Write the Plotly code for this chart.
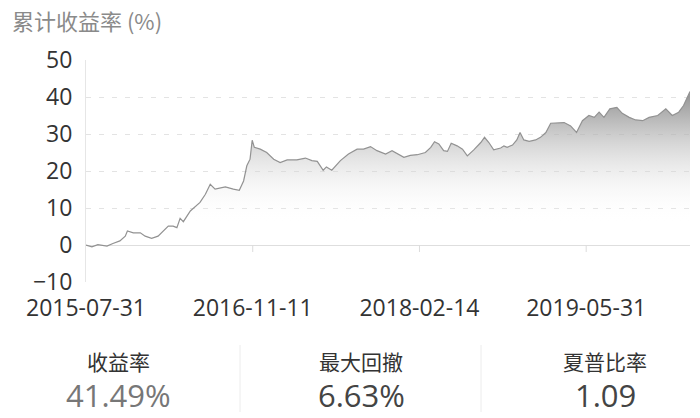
import plotly.graph_objects as go

# trading-day index (since 2015-07-31) and cumulative return (%)
days = [0, 11, 22, 39, 50, 63, 73, 77, 88, 101, 110, 122, 134, 153, 162, 169, 175, 181,
        194, 203, 212, 222, 231, 240, 259, 274, 285, 293, 299, 305, 309, 313, 324, 336,
        349, 361, 374, 392, 408, 420, 430, 441, 447, 457, 473, 488, 504, 516, 529, 541,
        557, 569, 579, 591, 603, 616, 631, 641, 648, 656, 665, 672, 679, 690, 700, 709,
        721, 734, 741, 749, 758, 771, 777, 783, 793, 801, 807, 814, 824, 836, 845, 855,
        864, 873, 889, 901, 912, 923, 935, 945, 954, 963, 974, 987, 997, 1010, 1022,
        1035, 1047, 1063, 1078, 1090, 1102, 1111, 1123]
returns = [0.0, -0.5, 0.1, -0.3, 0.4, 1.1, 2.4, 3.8, 3.3, 3.3, 2.4, 1.8, 2.4, 5.1, 5.1, 4.7,
           7.2, 6.3, 9.2, 10.3, 11.5, 13.7, 16.4, 15.1, 15.7, 15.1, 14.8, 17.3, 21.4, 23.2,
           28.3, 26.4, 25.9, 25.0, 23.2, 22.3, 23.0, 23.0, 23.5, 22.8, 22.6, 20.2, 21.1,
           20.2, 22.8, 24.6, 25.9, 25.9, 26.6, 25.5, 24.6, 25.5, 24.7, 23.7, 24.2, 24.4,
           25.0, 26.4, 27.9, 27.3, 25.5, 25.3, 27.5, 26.8, 25.9, 24.1, 25.7, 27.7, 29.1,
           27.7, 25.7, 26.2, 26.8, 26.4, 27.0, 28.4, 30.4, 28.4, 28.0, 28.4, 29.1, 30.4,
           32.9, 33.0, 33.1, 32.2, 30.4, 33.6, 35.0, 34.5, 35.9, 34.5, 36.8, 37.2, 35.6,
           34.5, 33.8, 33.6, 34.5, 35.0, 36.8, 35.0, 35.9, 37.7, 41.49]

tick_days = [0, 310, 620, 930]
tick_labels = ["2015-07-31", "2016-11-11", "2018-02-14", "2019-05-31"]
y_ticks = [-10, 0, 10, 20, 30, 40, 50]

stat_names = ["收益率", "最大回撤", "夏普比率"]
stat_values = ["41.49%", "6.63%", "1.09"]

W, H = 700, 418
L, R, T, B = 86, 10, 60, 136
PW, PH = W - L - R, H - T - B


def px(x):
    return (x - L) / PW


def py(y):
    return (H - B - y) / PH


NUM = "Open Sans, Noto Sans CJK SC, sans-serif"
CJK = "Noto Sans CJK SC, sans-serif"

fig = go.Figure()
fig.add_trace(go.Scatter(
    x=days, y=returns, mode="lines",
    line=dict(color="#929292", width=1.2),
    fill="tozeroy",
    fillgradient=dict(type="vertical", start=6, stop=42,
                      colorscale=[[0, "rgba(255,255,255,0)"], [1, "rgb(140,140,140)"]]),
    hoverinfo="skip", showlegend=False,
))

shapes = []
for d in tick_days[1:]:
    shapes.append(dict(type="line", xref="x", yref="y", ysizemode="pixel", yanchor=0,
                       x0=d, x1=d, y0=0, y1=-7, line=dict(color="#dcdcdc", width=1)))
for xd in (240, 481):
    shapes.append(dict(type="line", xref="paper", yref="paper",
                       x0=px(xd), x1=px(xd), y0=py(345), y1=py(412),
                       line=dict(color="#ececec", width=1)))

annotations = []
centers = [118, 361, 605]
value_colors = ["#777777", "#444444", "#444444"]
for c, n, v, vc in zip(centers, stat_names, stat_values, value_colors):
    annotations.append(dict(text=n, x=px(c), y=py(361), xref="paper", yref="paper",
                            xanchor="center", yanchor="middle", showarrow=False,
                            font=dict(family=CJK, size=21, color="#333333")))
    annotations.append(dict(text=v, x=px(c), y=py(395), xref="paper", yref="paper",
                            xanchor="center", yanchor="middle", showarrow=False,
                            font=dict(family=NUM, size=31, color=vc)))

fig.update_layout(
    width=W, height=H,
    margin=dict(l=L, r=R, t=T, b=B, autoexpand=False),
    paper_bgcolor="white", plot_bgcolor="white",
    title=dict(text="累计收益率 (%)", x=12 / W, xref="container", xanchor="left",
               y=1 - 22 / H, yref="container", yanchor="middle", automargin=False,
               font=dict(family=CJK, size=22, color="#8a8a8a")),
    xaxis=dict(range=[0, days[-1]], tickvals=tick_days, ticktext=tick_labels,
               showgrid=False, zeroline=False, showline=False, ticks="",
               automargin=False,
               tickfont=dict(family=NUM, size=23, color="#333333"),
               ticklabelstandoff=10),
    yaxis=dict(range=[-10, 50], tickvals=y_ticks, showgrid=True,
               gridcolor="#e3e3e3", griddash="5px,8px", gridwidth=1,
               zeroline=True, zerolinecolor="#dedede", zerolinewidth=1,
               showline=True, linecolor="#e6e6e6", linewidth=1, ticks="",
               automargin=False,
               tickfont=dict(family=NUM, size=23, color="#333333"),
               ticklabelstandoff=8),
    shapes=shapes, annotations=annotations,
)

fig.write_html("out.html", config={"displayModeBar": False},
               post_script="document.body.style.margin='0';document.body.style.overflow='hidden';")
